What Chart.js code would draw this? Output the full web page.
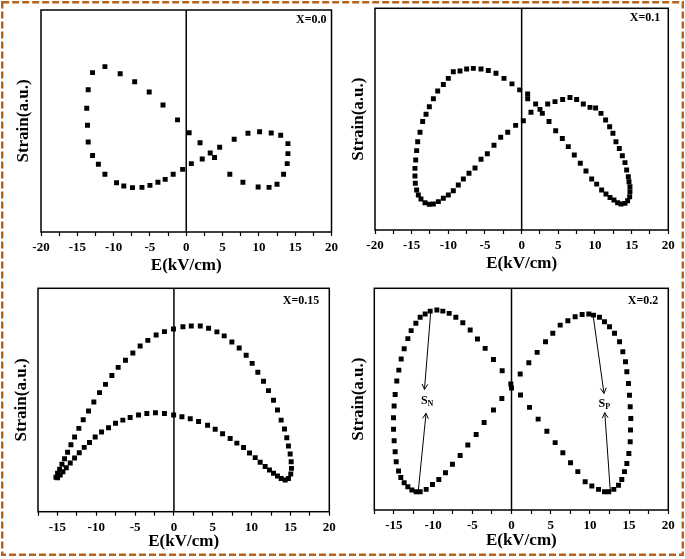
<!DOCTYPE html>
<html>
<head>
<meta charset="utf-8">
<script src="https://cdn.jsdelivr.net/npm/chart.js@4.4.1/dist/chart.umd.min.js"></script>
<style>
body { margin: 0; background: #fff; }
#wrap { position: relative; width: 685px; height: 559px; }
#wrap canvas { position: absolute; }
#frame { position: absolute; left: 0; top: 0; pointer-events: none; }
</style>
</head>
<body>
<div id="wrap">
<canvas id="p1" width="342" height="280" style="left:0;top:0"></canvas>
<canvas id="p2" width="343" height="280" style="left:342px;top:0"></canvas>
<canvas id="p3" width="342" height="279" style="left:0;top:280px"></canvas>
<canvas id="p4" width="343" height="279" style="left:342px;top:280px"></canvas>
<svg id="frame" width="685" height="559">
  <rect x="2.2" y="2.2" width="680.6" height="552.6" fill="none" stroke="#b3621f" stroke-width="2.4" stroke-dasharray="7 3"/>
</svg>
</div>
<script>
// tick labels shown on the E axis
const majorTicks = [-20, -15, -10, -5, 0, 5, 10, 15, 20];

// X = 0.0
const e00 = [-11.2, -12.9, -13.5, -13.7, -13.6, -13.5, -12.9, -12.1, -11.2, -9.6, -8.6, -7.4, -6.1, -5.0, -3.9, -2.9, -1.8, -0.5,
    0.7, 2.2, 3.3, 3.9, 4.6, 6.6, 8.5, 10.1, 11.7, 13.0, 14.0, 14.0, 13.9, 13.4, 12.5, 11.4, 9.9, 7.8, 6.0,
    -9.1, -7.1, -5.1, -3.2, -1.2, 0.4, 1.9];
const s00 = [74.5, 71.8, 64.1, 55.7, 48.1, 40.5, 34.5, 30.5, 26.0, 22.2, 20.7, 20.0, 20.1, 21.0, 22.4, 23.7, 26.0, 28.2,
    30.8, 32.9, 35.6, 33.6, 38.2, 41.8, 44.5, 45.2, 44.6, 43.6, 39.8, 35.3, 30.8, 26.0, 21.5, 20.1, 20.3, 22.4, 26.0,
    71.3, 67.7, 63.1, 57.2, 50.5, 44.7, 40.2];

// X = 0.1
const e01 = [-9.32, -8.41, -7.5, -6.59, -5.54, -4.55, -3.5, -2.41, -1.32, -0.27,
    -10.0, -10.68, -11.45, -12.04, -12.59, -13.04, -13.5, -13.86, -14.18, -14.32, -14.45, -14.55, -14.55, -14.5, -14.32,
    -14.09, -13.73, -13.18, -12.59, -12.04, -11.36, -10.68, -10.0, -9.32, -8.64, -7.95, -7.18, -6.36, -5.54, -4.68,
    -3.77, -2.86, -1.9, -0.82, 0.23,
    0.82, 0.82, 1.27, 1.91, 2.5, 2.82, 3.73, 4.64, 5.55, 6.36, 7.18, 8.0, 8.77, 9.55, 10.23, 10.91, 11.5, 12.05, 12.59,
    13.09, 13.55, 14.09, 14.45, 14.73, 14.77, 14.77, 14.64, 14.55, 14.32, 14.09, 13.73, 13.32, 12.86, 12.45, 12.0,
    11.45, 10.82, 10.09, 9.32, 8.41, 7.5, 6.59, 5.59, 4.55, 3.55];
const s01 = [71.4, 71.7, 72.6, 72.9, 72.6, 71.9, 70.7, 68.4, 65.9, 63.2,
    68.4, 65.6, 62.7, 59.2, 55.6, 52.2, 48.9, 44.1, 39.8, 35.8, 31.6, 27.8, 24.4, 21.1, 18.0,
    15.8, 14.0, 12.3, 11.6, 11.7, 12.8, 14.3, 15.8, 17.7, 20.3, 23.0, 25.6, 28.0, 31.9, 34.4,
    38.2, 41.8, 44.1, 47.2, 49.3,
    61.3, 59.2, 53.1, 56.8, 54.4, 52.6, 48.9, 44.8, 41.3, 37.6, 33.8, 30.1, 26.6, 23.0, 20.7, 18.0, 16.2, 14.7, 13.5,
    12.3, 11.7, 12.0, 13.2, 15.0, 17.3, 19.5, 21.8, 24.0, 27.1, 30.4, 33.5, 36.8, 39.8, 43.6, 46.6,
    49.6, 52.6, 55.0, 55.3, 56.8, 58.9, 59.8, 58.9, 57.9, 56.8];

// X = 0.15
const e015 = [-0.06, -1.22, -2.29, -3.36, -4.35, -5.29, -6.24, -7.18, -7.99, -8.81, -9.58, -10.31, -10.99, -11.68, -12.24,
    -12.79, -13.26, -13.69, -14.08, -14.42, -14.72, -14.98, -15.19,
    -1.22, -2.38, -3.49, -4.56, -5.64, -6.58, -7.52, -8.42, -9.32, -10.14, -10.87, -11.55, -12.19, -12.79, -13.35,
    -13.86, -14.29, -14.64, -14.98,
    1.16, 2.23, 3.39, 4.46, 5.53, 6.47, 7.46, 8.4, 9.3, 10.07, 10.8, 11.53, 12.17, 12.82, 13.33, 13.8, 14.23, 14.53,
    14.74, 14.96, 15.09, 15.13, 15.04, 14.74, 14.32,
    -0.04, 1.03, 2.1, 3.17, 4.33, 5.31, 6.26, 7.24, 8.1, 8.96, 9.73, 10.46, 11.1, 11.74, 12.3, 12.82, 13.33, 13.8];
const s015 = [81.8, 80.6, 79.1, 76.7, 74.2, 71.0, 67.8, 64.6, 61.0, 57.0, 53.3, 49.1, 45.1, 41.2, 37.3,
    33.4, 30.0, 26.6, 23.7, 21.2, 19.0, 17.2, 15.4,
    44.0, 44.3, 44.0, 43.3, 42.2, 41.0, 39.6, 37.6, 35.7, 33.4, 31.0, 28.8, 26.4, 24.0, 21.8,
    19.7, 17.9, 16.4, 15.2,
    82.8, 83.1, 83.1, 82.1, 80.5, 78.7, 76.0, 73.3, 70.0, 66.4, 62.4, 58.4, 54.2, 49.9, 45.5, 41.0, 37.0, 33.1,
    29.4, 25.8, 22.4, 19.4, 16.9, 14.9, 14.2,
    43.3, 42.5, 41.6, 40.4, 38.7, 36.9, 34.9, 32.8, 30.7, 28.7, 26.3, 24.2, 22.1, 20.2, 18.7, 17.2, 16.0, 14.9];

// X = 0.2
const e02 = [-10.37, -9.52, -8.76, -7.95, -7.1, -6.21, -5.27, -4.34, -3.36, -2.3, -1.19, -0.09, 0.0,
    -11.01, -11.65, -12.2, -12.8, -13.22, -13.69, -14.07, -14.37, -14.63, -14.84, -14.97, -15.05, -15.05, -14.97,
    -14.84, -14.71, -14.41, -14.12, -13.69, -13.22, -12.71, -12.16, -11.65, -10.88, -10.08, -9.27, -8.42, -7.53,
    -6.55, -5.57, -4.51, -3.49, -2.3, -1.23,
    1.11, 2.21, 3.27, 4.34, 5.27, 6.21, 7.19, 8.12, 9.01, 9.86, 10.46, 11.22, 11.86, 12.5, 13.14, 13.78, 14.2, 14.54,
    14.71, 14.92, 15.05, 15.14, 15.22, 15.18, 15.14, 14.97, 14.71, 14.41, 14.07, 13.65, 13.05, 12.41, 11.86, 11.1,
    10.25, 9.4, 8.46, 7.53, 6.55, 5.57, 4.51, 3.4, 2.3, 1.15];
const s02 = [89.7, 90.2, 89.7, 88.7, 86.9, 84.5, 81.2, 77.1, 72.9, 67.9, 62.8, 56.8, 55.0,
    88.4, 86.9, 84.2, 80.9, 77.3, 72.7, 68.1, 63.1, 58.2, 52.1, 46.9, 41.6, 36.4, 31.2,
    26.3, 21.8, 17.6, 14.7, 12.3, 10.5, 9.0, 8.2, 8.2, 9.3, 11.5, 13.8, 16.8, 20.6,
    24.6, 29.3, 34.1, 39.5, 45.1, 50.3,
    61.3, 66.4, 71.1, 75.9, 79.7, 83.4, 85.4, 87.2, 88.2, 88.4, 87.9, 86.9, 84.9, 82.7, 79.7, 75.9, 71.4, 66.9,
    62.4, 57.1, 51.8, 46.6, 41.3, 36.1, 30.8, 25.5, 21.0, 17.3, 13.8, 11.2, 9.3, 8.2, 8.2, 9.3,
    10.8, 12.7, 17.3, 21.3, 25.8, 30.4, 35.5, 41.0, 46.3, 51.9];

// S_N / S_P arrows for X = 0.2: [fromE, fromS, toE, toS]
const arrows02 = [[-10.3, 89.4, -11.1, 54.4], [-11.9, 8.3, -10.9, 43.6], [10.4, 88.0, 11.8, 52.6], [12.6, 8.7, 11.9, 43.9]];
const arrowLabels02 = [['S', 'N', -10.7, 49.2], ['S', 'P', 11.95, 47.8]];

Chart.defaults.font.family = '"Liberation Serif", "Times New Roman", serif';
Chart.defaults.color = '#000';

function arrow(ctx, x1, y1, x2, y2) {
    ctx.beginPath();
    ctx.moveTo(x1, y1);
    ctx.lineTo(x2, y2);
    ctx.stroke();
    const a = Math.atan2(y2 - y1, x2 - x1);
    const h = 6;
    ctx.beginPath();
    ctx.moveTo(x2 - h * Math.cos(a - 0.5), y2 - h * Math.sin(a - 0.5));
    ctx.lineTo(x2, y2);
    ctx.lineTo(x2 - h * Math.cos(a + 0.5), y2 - h * Math.sin(a + 0.5));
    ctx.stroke();
}

const framePlugin = {
    id: 'frame',
    afterDraw(chart, args, opts) {
        const { ctx, chartArea: a, scales } = chart;
        ctx.save();
        ctx.strokeStyle = '#000';
        ctx.lineWidth = 1.5;
        ctx.strokeRect(a.left, a.top, a.right - a.left, a.bottom - a.top);
        const x0 = scales.x.getPixelForValue(0);
        ctx.beginPath();
        ctx.moveTo(x0, a.top);
        ctx.lineTo(x0, a.bottom);
        ctx.stroke();

        ctx.fillStyle = '#000';
        ctx.font = 'bold 12px "Liberation Serif"';
        ctx.textAlign = 'right';
        ctx.textBaseline = 'middle';
        ctx.fillText(opts.label, a.right - opts.lx, a.top + opts.ly);

        if (opts.arrows) {
            ctx.lineWidth = 1;
            opts.arrows.forEach(r => {
                arrow(ctx, scales.x.getPixelForValue(r[0]), scales.y.getPixelForValue(r[1]),
                    scales.x.getPixelForValue(r[2]), scales.y.getPixelForValue(r[3]));
            });
            opts.arrowLabels.forEach(l => {
                const x = scales.x.getPixelForValue(l[2]);
                const y = scales.y.getPixelForValue(l[3]);
                ctx.textAlign = 'right';
                ctx.font = 'bold 12px "Liberation Serif"';
                ctx.fillText(l[0], x, y);
                ctx.textAlign = 'left';
                ctx.font = 'bold 8px "Liberation Serif"';
                ctx.fillText(l[1], x, y + 3);
            });
        }
        ctx.restore();
    },
};

function panel(id, e, s, cfg) {
    return new Chart(document.getElementById(id), {
        type: 'scatter',
        data: {
            datasets: [
                {
                    data: e.map((v, i) => ({ x: v, y: s[i] })),
                    pointStyle: 'rect',
                    pointRadius: 3.5,
                    backgroundColor: '#000',
                    borderColor: '#000',
                    borderWidth: 0,
                },
            ],
        },
        options: {
            responsive: false,
            animation: false,
            devicePixelRatio: 1,
            layout: { padding: { left: 0, top: cfg.top, right: cfg.right, bottom: 0 } },
            plugins: {
                legend: { display: false },
                tooltip: { enabled: false },
                frame: cfg.frame,
            },
            scales: {
                x: {
                    type: 'linear',
                    min: cfg.xmin,
                    max: 20,
                    afterFit: function (scale) {
                        scale.height = cfg.xh;
                    },
                    ticks: {
                        stepSize: 2.5,
                        autoSkip: false,
                        maxRotation: 0,
                        minRotation: 0,
                        padding: cfg.tpad,
                        font: { size: 13, weight: 'bold' },
                        callback: function (value) {
                            return majorTicks.includes(value) ? String(value) : '';
                        },
                    },
                    grid: { drawOnChartArea: false, tickLength: 4, color: '#000', tickWidth: 1.2 },
                    border: { display: false },
                    title: {
                        display: true,
                        text: 'E(kV/cm)',
                        font: { size: 17, weight: 'bold' },
                        padding: { top: 0, bottom: cfg.xtpad },
                    },
                },
                y: {
                    min: 0,
                    max: 100,
                    afterFit: function (scale) {
                        scale.width = cfg.yw;
                    },
                    ticks: { display: false },
                    grid: { display: false },
                    border: { display: false },
                    title: {
                        display: true,
                        text: 'Strain(a.u.)',
                        font: { size: 17, weight: 'bold' },
                        padding: { top: cfg.ytpad, bottom: 0 },
                    },
                },
            },
        },
        plugins: [framePlugin],
    });
}

panel('p1', e00, s00, { xmin: -20, top: 10, right: 9, xh: 48, yw: 41, tpad: 4, xtpad: 4.4, ytpad: 13, frame: { label: 'X=0.0', lx: 5, ly: 10 } });
panel('p2', e01, s01, { xmin: -20, top: 8.3, right: 16.7, xh: 50, yw: 33, tpad: 4, xtpad: 6.4, ytpad: 6.3, frame: { label: 'X=0.1', lx: 8, ly: 10 } });
panel('p3', e015, s015, { xmin: -17.5, top: 8.3, right: 12.7, xh: 47.3, yw: 38, tpad: 4, xtpad: 6.7, ytpad: 11.7, frame: { label: 'X=0.15', lx: 10, ly: 13 } });
panel('p4', e02, s02, { xmin: -17.5, top: 8.3, right: 16.7, xh: 49, yw: 32.3, tpad: 4, xtpad: 8.4, ytpad: 6.3,
    frame: { label: 'X=0.2', lx: 10, ly: 13, arrows: arrows02, arrowLabels: arrowLabels02 } });
</script>
</body>
</html>
